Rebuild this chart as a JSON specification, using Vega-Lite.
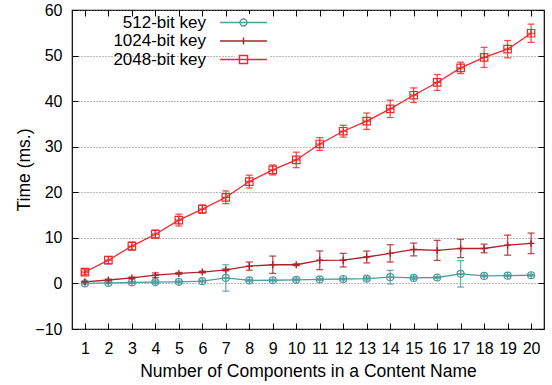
{
  "$schema": "https://vega.github.io/schema/vega-lite/v6.json",
  "width": 472,
  "height": 319,
  "autosize": {"type": "none"},
  "padding": {"left": 72, "top": 10, "right": 8, "bottom": 56},
  "background": "white",
  "config": {
    "font": "Liberation Sans",
    "view": {"stroke": "#000", "strokeWidth": 1.2},
    "axis": {"labelColor": "#000", "titleColor": "#000", "labelFontSize": 16, "titleFontSize": 17.5, "titleFontWeight": "normal", "domain": false, "tickColor": "#000", "tickSize": -6, "tickWidth": 1}
  },
  "data": {"values": [
    {"key": "512-bit key", "n": 1, "t": 0.0, "lo": -0.15, "hi": 0.15},
    {"key": "512-bit key", "n": 2, "t": 0.1, "lo": -0.05, "hi": 0.25},
    {"key": "512-bit key", "n": 3, "t": 0.2, "lo": 0.0, "hi": 0.4},
    {"key": "512-bit key", "n": 4, "t": 0.3, "lo": 0.0, "hi": 0.6},
    {"key": "512-bit key", "n": 5, "t": 0.35, "lo": 0.15, "hi": 0.55},
    {"key": "512-bit key", "n": 6, "t": 0.5, "lo": 0.3, "hi": 0.7},
    {"key": "512-bit key", "n": 7, "t": 1.2, "lo": -1.7, "hi": 4.1},
    {"key": "512-bit key", "n": 8, "t": 0.65, "lo": 0.45, "hi": 0.85},
    {"key": "512-bit key", "n": 9, "t": 0.7, "lo": 0.5, "hi": 0.9},
    {"key": "512-bit key", "n": 10, "t": 0.8, "lo": 0.6, "hi": 1.0},
    {"key": "512-bit key", "n": 11, "t": 0.87, "lo": 0.67, "hi": 1.07},
    {"key": "512-bit key", "n": 12, "t": 0.97, "lo": 0.77, "hi": 1.17},
    {"key": "512-bit key", "n": 13, "t": 1.05, "lo": 0.75, "hi": 1.35},
    {"key": "512-bit key", "n": 14, "t": 1.37, "lo": -0.13, "hi": 2.87},
    {"key": "512-bit key", "n": 15, "t": 1.2, "lo": 0.9, "hi": 1.5},
    {"key": "512-bit key", "n": 16, "t": 1.3, "lo": 1.1, "hi": 1.5},
    {"key": "512-bit key", "n": 17, "t": 2.1, "lo": -0.8, "hi": 5.0},
    {"key": "512-bit key", "n": 18, "t": 1.65, "lo": 1.45, "hi": 1.85},
    {"key": "512-bit key", "n": 19, "t": 1.7, "lo": 1.5, "hi": 1.9},
    {"key": "512-bit key", "n": 20, "t": 1.8, "lo": 1.6, "hi": 2.0},
    {"key": "1024-bit key", "n": 1, "t": 0.35, "lo": 0.25, "hi": 0.45},
    {"key": "1024-bit key", "n": 2, "t": 0.75, "lo": 0.55, "hi": 0.95},
    {"key": "1024-bit key", "n": 3, "t": 1.2, "lo": 1.0, "hi": 1.4},
    {"key": "1024-bit key", "n": 4, "t": 1.8, "lo": 1.3, "hi": 2.3},
    {"key": "1024-bit key", "n": 5, "t": 2.2, "lo": 2.0, "hi": 2.4},
    {"key": "1024-bit key", "n": 6, "t": 2.5, "lo": 2.3, "hi": 2.7},
    {"key": "1024-bit key", "n": 7, "t": 2.96, "lo": 2.76, "hi": 3.16},
    {"key": "1024-bit key", "n": 8, "t": 3.8, "lo": 2.9, "hi": 4.7},
    {"key": "1024-bit key", "n": 9, "t": 4.1, "lo": 2.2, "hi": 6.0},
    {"key": "1024-bit key", "n": 10, "t": 4.1, "lo": 3.9, "hi": 4.3},
    {"key": "1024-bit key", "n": 11, "t": 5.07, "lo": 3.02, "hi": 7.12},
    {"key": "1024-bit key", "n": 12, "t": 5.1, "lo": 3.6, "hi": 6.6},
    {"key": "1024-bit key", "n": 13, "t": 5.8, "lo": 4.5, "hi": 7.1},
    {"key": "1024-bit key", "n": 14, "t": 6.6, "lo": 4.7, "hi": 8.5},
    {"key": "1024-bit key", "n": 15, "t": 7.45, "lo": 6.05, "hi": 8.85},
    {"key": "1024-bit key", "n": 16, "t": 7.25, "lo": 5.05, "hi": 9.45},
    {"key": "1024-bit key", "n": 17, "t": 7.67, "lo": 5.67, "hi": 9.67},
    {"key": "1024-bit key", "n": 18, "t": 7.67, "lo": 6.72, "hi": 8.62},
    {"key": "1024-bit key", "n": 19, "t": 8.4, "lo": 6.2, "hi": 10.6},
    {"key": "1024-bit key", "n": 20, "t": 8.8, "lo": 6.55, "hi": 11.05},
    {"key": "2048-bit key", "n": 1, "t": 2.5, "lo": 2.0, "hi": 3.0},
    {"key": "2048-bit key", "n": 2, "t": 5.1, "lo": 4.3, "hi": 5.9},
    {"key": "2048-bit key", "n": 3, "t": 8.2, "lo": 7.3, "hi": 9.1},
    {"key": "2048-bit key", "n": 4, "t": 10.8, "lo": 9.9, "hi": 11.7},
    {"key": "2048-bit key", "n": 5, "t": 13.9, "lo": 12.6, "hi": 15.2},
    {"key": "2048-bit key", "n": 6, "t": 16.3, "lo": 15.4, "hi": 17.2},
    {"key": "2048-bit key", "n": 7, "t": 18.9, "lo": 17.5, "hi": 20.3},
    {"key": "2048-bit key", "n": 8, "t": 22.35, "lo": 20.95, "hi": 23.75},
    {"key": "2048-bit key", "n": 9, "t": 24.9, "lo": 23.8, "hi": 26.0},
    {"key": "2048-bit key", "n": 10, "t": 27.1, "lo": 25.4, "hi": 28.8},
    {"key": "2048-bit key", "n": 11, "t": 30.6, "lo": 29.2, "hi": 32.0},
    {"key": "2048-bit key", "n": 12, "t": 33.4, "lo": 32.1, "hi": 34.7},
    {"key": "2048-bit key", "n": 13, "t": 35.6, "lo": 33.8, "hi": 37.4},
    {"key": "2048-bit key", "n": 14, "t": 38.3, "lo": 36.4, "hi": 40.2},
    {"key": "2048-bit key", "n": 15, "t": 41.3, "lo": 39.7, "hi": 42.9},
    {"key": "2048-bit key", "n": 16, "t": 44.1, "lo": 42.35, "hi": 45.85},
    {"key": "2048-bit key", "n": 17, "t": 47.3, "lo": 46.05, "hi": 48.55},
    {"key": "2048-bit key", "n": 18, "t": 49.6, "lo": 47.4, "hi": 51.8},
    {"key": "2048-bit key", "n": 19, "t": 51.4, "lo": 49.5, "hi": 53.3},
    {"key": "2048-bit key", "n": 20, "t": 54.9, "lo": 52.9, "hi": 56.9}
  ]},
  "resolve": {"axis": {"x": "independent", "y": "independent"}},
  "layer": [
    {
      "mark": {"type": "line", "strokeWidth": 1.3},
      "encoding": {
        "x": {"field": "n", "type": "quantitative", "scale": {"domain": [0.45, 20.55], "nice": false, "zero": false},
              "axis": {"orient": "bottom", "values": [1,2,3,4,5,6,7,8,9,10,11,12,13,14,15,16,17,18,19,20], "title": "Number of Components in a Content Name", "labelPadding": 17, "titlePadding": 6, "grid": false}},
        "y": {"field": "t", "type": "quantitative", "scale": {"domain": [-10, 60], "nice": false, "zero": false},
              "axis": {"orient": "left", "values": [-10,0,10,20,30,40,50,60], "title": "Time (ms.)", "labelPadding": 16, "titlePadding": 1, "grid": true, "gridDash": [1, 2], "gridColor": "#777", "gridWidth": 1}},
        "color": {"field": "key", "type": "nominal",
                  "scale": {"domain": ["512-bit key", "1024-bit key", "2048-bit key"], "range": ["#4f9d9d", "#b0202a", "#f0282c"]},
                  "legend": {"orient": "none", "legendX": 163, "legendY": 4, "title": null, "padding": 0,
                             "symbolSize": 49, "symbolStrokeWidth": 1.4, "symbolFillColor": "transparent", "symbolOpacity": 1,
                             "labelAlign": "right", "labelOffset": -46, "labelFontSize": 17, "labelColor": "#000",
                             "rowPadding": 0.5, "fillColor": "white",
                             "encode": {"symbols": {"update": {"fill": {"value": "transparent"}, "fillOpacity": {"value": 0}, "shape": {"signal": "datum.value === '512-bit key' ? 'M-6.7,0L6.7,0M1,0A1,1 0 1,1 -1,0A1,1 0 1,1 1,0Z' : datum.value === '1024-bit key' ? 'M-6.7,0L6.7,0M0,-1L0,1' : 'M-6.7,0L6.7,0M-1.15,-1.15L1.15,-1.15L1.15,1.15L-1.15,1.15Z'"}}}}}}
      }
    },
    {
      "mark": {"type": "errorbar", "ticks": {"size": 7}, "thickness": 1.3, "opacity": 0.8},
      "encoding": {
        "x": {"field": "n", "type": "quantitative", "axis": null},
        "y": {"field": "lo", "type": "quantitative", "axis": null},
        "y2": {"field": "hi"},
        "color": {"field": "key", "type": "nominal", "legend": null}
      }
    },
    {
      "transform": [{"filter": "datum.key === '512-bit key'"}],
      "mark": {"type": "point", "filled": false, "strokeWidth": 1.2, "size": 49, "opacity": 1, "shape": "M1,0A1,1 0 1,1 -1,0A1,1 0 1,1 1,0Z M-1,0L1,0 M0,-1L0,1"},
      "encoding": {
        "x": {"field": "n", "type": "quantitative",
              "axis": {"orient": "top", "values": [1,2,3,4,5,6,7,8,9,10,11,12,13,14,15,16,17,18,19,20], "labels": false, "title": null, "grid": false}},
        "y": {"field": "t", "type": "quantitative",
              "axis": {"orient": "right", "values": [-10,0,10,20,30,40,50,60], "labels": false, "title": null, "grid": false}},
        "color": {"field": "key", "type": "nominal", "legend": null}
      }
    },
    {
      "transform": [{"filter": "datum.key === '1024-bit key'"}],
      "mark": {"type": "point", "filled": false, "strokeWidth": 1.4, "size": 49, "opacity": 1, "shape": "M-1,0L1,0M0,-1L0,1"},
      "encoding": {
        "x": {"field": "n", "type": "quantitative", "axis": null},
        "y": {"field": "t", "type": "quantitative", "axis": null},
        "color": {"field": "key", "type": "nominal", "legend": null}
      }
    },
    {
      "transform": [{"filter": "datum.key === '2048-bit key'"}],
      "mark": {"type": "point", "filled": false, "strokeWidth": 1.2, "size": 56, "opacity": 1, "shape": "M-1,-1L1,-1L1,1L-1,1Z M-1,0L1,0M0,-1L0,1"},
      "encoding": {
        "x": {"field": "n", "type": "quantitative", "axis": null},
        "y": {"field": "t", "type": "quantitative", "axis": null},
        "color": {"field": "key", "type": "nominal", "legend": null}
      }
    }
  ]
}
